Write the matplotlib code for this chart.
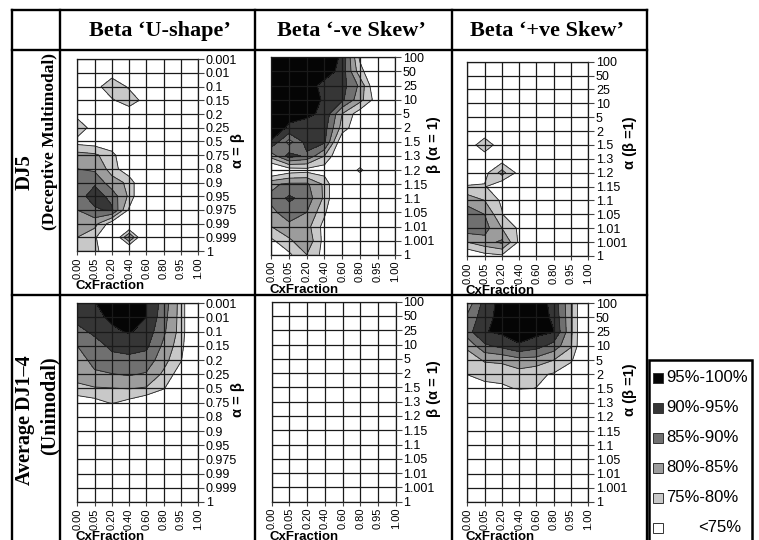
import matplotlib
matplotlib.use('Agg')
import matplotlib.pyplot as plt
import numpy as np
from matplotlib.lines import Line2D
from matplotlib.patches import Rectangle

plt.rcParams['font.family'] = ['Liberation Sans', 'DejaVu Sans']

W, H = 759, 540
fig = plt.figure(figsize=(W / 100, H / 100), dpi=100)

# ---------------- data ----------------
x_labels = ['0.00', '0.05', '0.20', '0.40', '0.60', '0.80', '0.95', '1.00']
u_labels = ['0.001', '0.01', '0.1', '0.15', '0.2', '0.25', '0.5', '0.75', '0.8',
            '0.9', '0.95', '0.975', '0.99', '0.999', '1']
skew_labels = ['100', '50', '25', '10', '5', '2', '1.5', '1.3', '1.2', '1.15',
               '1.1', '1.05', '1.01', '1.001', '1']
col_titles = ['Beta \u2018U-shape\u2019', 'Beta \u2018-ve Skew\u2019', 'Beta \u2018+ve Skew\u2019']
legend_labels = ['95%-100%', '90%-95%', '85%-90%', '80%-85%', '75%-80%', '<75%']
levels = [75, 80, 85, 90, 95, 100.5]

# success rate (%) grids: rows = y categories (top to bottom), cols = CxFraction
u_dj5 = [
    [65, 65, 65, 65, 65, 65, 65, 65],
    [65, 65, 72, 65, 65, 65, 65, 65],
    [65, 72, 80, 74, 65, 65, 65, 65],
    [65, 65, 74, 79, 72, 65, 65, 65],
    [73, 74, 65, 70, 65, 65, 65, 65],
    [79, 72, 65, 75.4, 65, 65, 65, 65],
    [73, 72, 70, 65, 65, 65, 65, 65],
    [82, 81, 77, 68, 65, 65, 65, 65],
    [85, 84, 78, 70, 65, 65, 65, 65],
    [86, 89, 82, 79, 65, 65, 65, 65],
    [87, 93, 88, 79, 65, 65, 65, 65],
    [85, 89, 91, 74, 65, 65, 65, 65],
    [83, 82, 72, 66, 65, 65, 65, 65],
    [80, 76, 66, 86, 65, 65, 65, 65],
    [78, 76, 72, 66, 65, 65, 65, 65],
]
neg_dj5 = [
    [99, 99, 99, 99, 94, 74, 65, 65],
    [99, 99, 99, 98, 93, 77, 68, 65],
    [99, 99, 98, 93, 92, 84, 68, 65],
    [99, 98, 97, 94.5, 91, 82, 72, 65],
    [98, 96, 96, 94, 80, 72, 65, 65],
    [97, 94.5, 93, 92, 78, 70, 65, 65],
    [94.7, 83, 92, 91, 70, 65, 65, 65],
    [82, 92, 89, 80, 68, 65, 65, 65],
    [68, 72, 73, 72, 65, 77, 65, 65],
    [84, 86, 86, 79, 65, 65, 65, 65],
    [86, 91, 88, 79, 65, 65, 65, 65],
    [84, 87, 85, 76, 65, 65, 65, 65],
    [80, 84, 82, 73, 65, 65, 65, 65],
    [74, 79, 84, 73, 65, 65, 65, 65],
    [70, 74, 80, 73, 65, 65, 65, 65],
]
pos_dj5 = [
    [65, 65, 65, 65, 65, 65, 65, 65],
    [65, 65, 65, 65, 65, 65, 65, 65],
    [65, 65, 65, 65, 65, 65, 65, 65],
    [65, 65, 65, 65, 65, 65, 65, 65],
    [65, 65, 65, 65, 65, 65, 65, 65],
    [65, 72, 65, 65, 65, 65, 65, 65],
    [72, 78, 72, 65, 65, 65, 65, 65],
    [65, 72, 72, 65, 65, 65, 65, 65],
    [65, 73, 82, 73, 65, 65, 65, 65],
    [76, 75.5, 70, 65, 65, 65, 65, 65],
    [83, 80, 74, 65, 65, 65, 65, 65],
    [88, 85, 75.5, 65, 65, 65, 65, 65],
    [88, 87, 80, 74, 65, 65, 65, 65],
    [80, 83, 86, 74, 65, 65, 65, 65],
    [70, 73, 74, 70, 65, 65, 65, 65],
]
u_avg = [
    [93, 94.7, 98, 99, 95.2, 88, 78, 65],
    [91.5, 93.5, 96, 97.5, 95, 87, 78, 65],
    [88.5, 91, 94, 95.5, 93, 86, 78, 65],
    [85, 88, 91, 91.5, 91, 84, 77, 65],
    [83.5, 86, 88.5, 89, 88, 82, 75.5, 65],
    [81.5, 84.5, 84.8, 85.5, 84.5, 79, 72, 65],
    [79, 79.5, 79.8, 80.2, 79.5, 75.5, 68, 65],
    [71, 73, 75.5, 73.3, 70, 65, 65, 65],
    [65, 65, 65, 65, 65, 65, 65, 65],
    [65, 65, 65, 65, 65, 65, 65, 65],
    [65, 65, 65, 65, 65, 65, 65, 65],
    [65, 65, 65, 65, 65, 65, 65, 65],
    [65, 65, 65, 65, 65, 65, 65, 65],
    [65, 65, 65, 65, 65, 65, 65, 65],
    [65, 65, 65, 65, 65, 65, 65, 65],
]
neg_avg = [[65] * 8 for _ in range(15)]
pos_avg = [
    [82, 92, 97, 99, 98.5, 93, 81, 65],
    [86, 93, 97, 98.5, 98, 94, 81, 65],
    [88, 94.7, 96, 97, 96.5, 95.2, 81, 65],
    [81, 89, 91.5, 94.5, 92, 88, 80.5, 65],
    [77.5, 80.5, 81, 83.25, 83, 80, 76, 65],
    [75.2, 77, 77, 78, 76, 74.5, 70, 65],
    [68, 73, 74, 75.5, 74.9, 68, 65, 65],
    [65, 65, 65, 65, 65, 65, 65, 65],
    [65, 65, 65, 65, 65, 65, 65, 65],
    [65, 65, 65, 65, 65, 65, 65, 65],
    [65, 65, 65, 65, 65, 65, 65, 65],
    [65, 65, 65, 65, 65, 65, 65, 65],
    [65, 65, 65, 65, 65, 65, 65, 65],
    [65, 65, 65, 65, 65, 65, 65, 65],
    [65, 65, 65, 65, 65, 65, 65, 65],
]

# ---------------- styles ----------------
fill_colors = ['#c8c8c8', '#9c9c9c', '#707070', '#363636', '#050505']
legend_colors = ['#050505', '#363636', '#707070', '#9c9c9c', '#c8c8c8', '#ffffff']


def fx(x):
    return x / W


def fy(y):
    return 1 - y / H


def draw_panel(box, Z, ylabels, ylabel, ylab_pos):
    x0, y0, x1, y1 = box
    ax = fig.add_axes([fx(x0), fy(y1), (x1 - x0) / W, (y1 - y0) / H])
    Z = np.array(Z, dtype=float)
    xs = np.arange(Z.shape[1])
    ys = np.arange(Z.shape[0])
    if Z.max() >= levels[0]:
        ax.contourf(xs, ys, Z, levels=levels, colors=fill_colors)
        ax.contour(xs, ys, Z, levels=levels[:-1], colors='#222222', linewidths=0.6)
    ax.set_xlim(0, len(xs) - 1)
    ax.set_ylim(len(ys) - 1, 0)
    ax.set_xticks(xs)
    ax.set_xticklabels(x_labels, rotation=90, fontsize=8)
    ax.set_yticks(ys)
    ax.set_yticklabels(ylabels, fontsize=9)
    ax.yaxis.tick_right()
    ax.tick_params(axis='y', length=4, width=0.8, pad=1.5, color='#444444')
    ax.tick_params(axis='x', length=3, width=0.8, pad=1.5, color='#444444')
    ax.grid(True, color='#1a1a1a', linewidth=0.9)
    ax.set_axisbelow(False)
    for s in ax.spines.values():
        s.set_color('#1a1a1a')
        s.set_linewidth(0.9)
    fig.text(fx(x0 - 2), fy(y1 + 29), 'CxFraction', ha='left', va='top',
             fontweight='bold', fontsize=9.5)
    fig.text(fx(ylab_pos[0]), fy(ylab_pos[1]), ylabel, rotation=90, ha='center',
             va='center', fontweight='bold', fontsize=10.5)
    return ax


draw_panel((77.3, 59.3, 198.3, 251), u_dj5, u_labels, '\u03b1 = \u03b2', (238, 151))
draw_panel((271.3, 57.3, 395.3, 254.7), neg_dj5, skew_labels, '\u03b2 (\u03b1 = 1)', (434, 145))
draw_panel((467.3, 61.7, 588.3, 256), pos_dj5, skew_labels, '\u03b1 (\u03b2 =1)', (630, 143))
draw_panel((77.3, 303.3, 198, 502), u_avg, u_labels, '\u03b1 = \u03b2', (238, 400))
draw_panel((271.7, 301.7, 395.7, 501.7), neg_avg, skew_labels, '\u03b2 (\u03b1 = 1)', (434, 389))
draw_panel((467.3, 303.3, 588.3, 502), pos_avg, skew_labels, '\u03b1 (\u03b2 =1)', (630, 390))

# ---------------- table frame ----------------
def fline(xa, ya, xb, yb, lw=1.7):
    fig.add_artist(Line2D([fx(xa), fx(xb)], [fy(ya), fy(yb)], transform=fig.transFigure,
                          color='black', linewidth=lw, solid_capstyle='projecting'))


for yy in (10, 50, 295):
    fline(12, yy, 647, yy)
for xx in (12, 60, 255, 452, 647):
    fline(xx, 10, xx, 545)

serif = ['Liberation Serif', 'DejaVu Serif']
for cx, t in zip((160, 351, 547), col_titles):
    fig.text(fx(cx), fy(31), t, ha='center', va='center', fontweight='bold',
             fontsize=16, family=serif)

fig.text(fx(25), fy(172), 'DJ5', rotation=90, ha='center', va='center',
         fontweight='bold', fontsize=15, family=serif)
fig.text(fx(50), fy(142), '(Deceptive Multimodal)', rotation=90, ha='center', va='center',
         fontweight='bold', fontsize=12.5, family=serif)
fig.text(fx(25), fy(420), 'Average DJ1\u20134', rotation=90, ha='center', va='center',
         fontweight='bold', fontsize=14.5, family=serif)
fig.text(fx(50), fy(406), '(Unimodal)', rotation=90, ha='center', va='center',
         fontweight='bold', fontsize=14.5, family=serif)

# ---------------- legend ----------------
fig.add_artist(Rectangle((fx(649), fy(548)), 103 / W, 188 / H, transform=fig.transFigure,
                         facecolor='white', edgecolor='black', linewidth=1.8))
for i, (lab, col) in enumerate(zip(legend_labels, legend_colors)):
    yc = 378 + i * 30
    fig.add_artist(Rectangle((fx(653), fy(yc + 5)), 10 / W, 10 / H, transform=fig.transFigure,
                             facecolor=col, edgecolor='#333333', linewidth=0.7))
    if lab.startswith('<'):
        fig.text(fx(741), fy(yc), lab, ha='right', va='center', fontsize=12)
    else:
        fig.text(fx(666), fy(yc), lab, ha='left', va='center', fontsize=12)

fig.savefig('out.png', dpi=100, facecolor='white')
